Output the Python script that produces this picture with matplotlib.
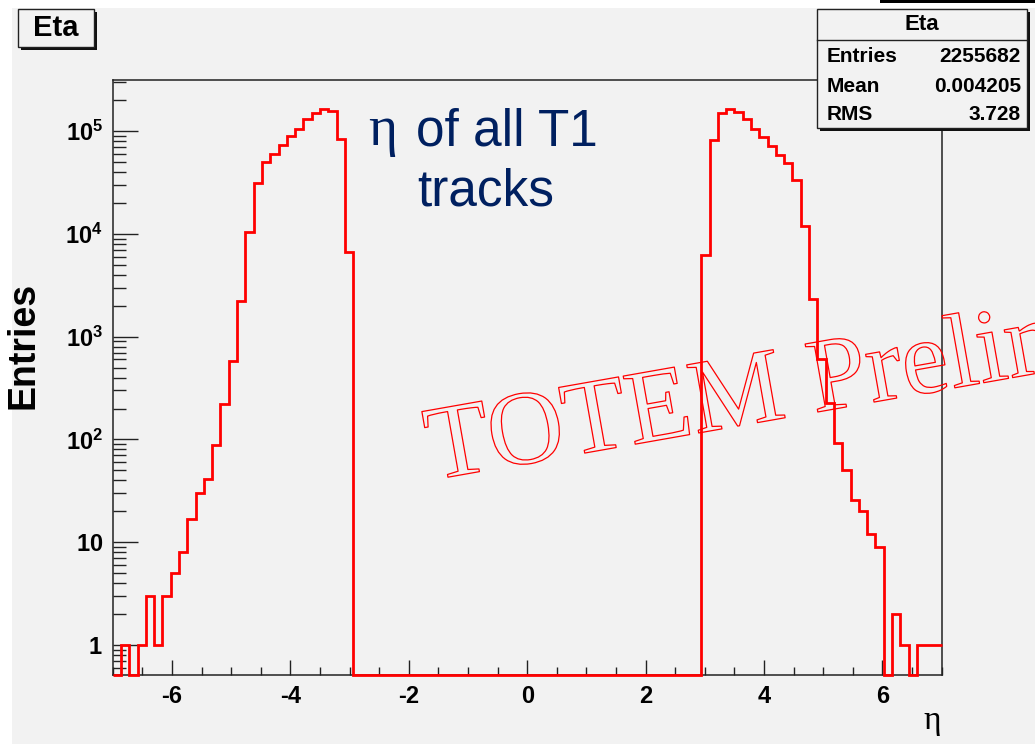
import numpy as np
import matplotlib
matplotlib.use("Agg")
import matplotlib.pyplot as plt
import matplotlib.patheffects as pe
from matplotlib.patches import Rectangle
from matplotlib.lines import Line2D
from matplotlib.ticker import MultipleLocator, LogLocator, FuncFormatter, NullFormatter

# Data: 100 bins of eta from -7 to 7
eta_edges = np.linspace(-7, 7, 101)
left_counts = [0, 1, 0, 1, 3, 1, 3, 5, 8, 17, 30, 41, 89, 221, 576, 2210,
               10500, 31500, 50000, 59800, 72900, 88700, 105300, 129400,
               150900, 164300, 157400, 82800, 6620]
middle_counts = [0] * 42
right_counts = [6220, 82400, 150600, 164000, 153000, 132000, 105000, 87500,
                71200, 58400, 49100, 33300, 11860, 2310, 609, 226, 92, 50,
                26, 20, 12, 9, 0, 2, 1, 0, 1, 1, 1]
counts = np.array(left_counts + middle_counts + right_counts, dtype=float)

stats_rows = [("Entries", "2255682"), ("Mean", "0.004205"), ("RMS", "3.728")]
ytick_values = [1, 10, 1e2, 1e3, 1e4, 1e5]

plt.rcParams['font.family'] = 'Liberation Sans'
plt.rcParams['axes.unicode_minus'] = False
plt.rcParams['mathtext.fontset'] = 'custom'
plt.rcParams['mathtext.rm'] = 'Liberation Sans:bold'
plt.rcParams['mathtext.bf'] = 'Liberation Sans:bold'

W, H = 1035, 744
fig = plt.figure(figsize=(W / 100, H / 100), dpi=100, facecolor='white')
bg = '#f2f2f2'


def fx(x):
    return x / W


def fy(y):
    return 1 - y / H


# ROOT canvas background
fig.patches.append(Rectangle((fx(12), 0), 1 - fx(12), fy(8), transform=fig.transFigure,
                             facecolor=bg, edgecolor='none', zorder=-10))
fig.patches.append(Rectangle((fx(880), fy(3)), 1 - fx(880), 1 - fy(3), transform=fig.transFigure,
                             facecolor='black', edgecolor='none', zorder=5))

ax = fig.add_axes([fx(112.7), fy(675), fx(941.7) - fx(112.7), fy(80) - fy(675)])
ax.set_facecolor(bg)
ax.set_yscale('log')
ax.set_xlim(-7, 7)
ax.set_ylim(0.513, 3.13e5)

ymin = ax.get_ylim()[0]
ax.stairs(np.where(counts > 0, counts, ymin), eta_edges, baseline=None,
          color='#ff0000', linewidth=2.0, clip_on=False, zorder=3)

for s in ax.spines.values():
    s.set_color('#222222')
    s.set_linewidth(1.1)

ax.xaxis.set_major_locator(MultipleLocator(2))
ax.xaxis.set_minor_locator(MultipleLocator(0.5))
ax.yaxis.set_major_locator(LogLocator(base=10, numticks=20))
ax.yaxis.set_minor_locator(LogLocator(base=10, subs=np.arange(2, 10), numticks=20))
ax.yaxis.set_minor_formatter(NullFormatter())


def ylab(v, pos):
    if v in ytick_values[:2]:
        return r'$\mathbf{%d}$' % int(v)
    return r'$\mathbf{10^{%d}}$' % int(round(np.log10(v)))


ax.yaxis.set_major_formatter(FuncFormatter(ylab))
ax.tick_params(axis='both', which='both', direction='in', colors='#222222',
               top=False, right=False, width=1.0)
ax.tick_params(axis='x', which='major', length=10.8, pad=7, labelsize=17)
ax.tick_params(axis='x', which='minor', length=5.8)
ax.tick_params(axis='y', which='major', length=18, pad=7, labelsize=17)
ax.tick_params(axis='y', which='minor', length=9.4)
for lbl in ax.get_xticklabels():
    lbl.set_fontweight('bold')
    lbl.set_color('black')
for lbl in ax.get_yticklabels():
    lbl.set_color('black')

# axis titles
fig.text(fx(24), fy(345), 'Entries', rotation=90, ha='center', va='center',
         fontsize=27, fontweight='bold')
fig.text(fx(941), fy(729), 'η', ha='right', va='baseline', fontsize=24,
         family='Liberation Serif')

# in-plot annotation
navy = '#002060'
fig.text(fx(383), fy(145), 'η', ha='center', va='baseline', fontsize=40,
         family='Liberation Serif', color=navy)
fig.text(fx(507), fy(145), 'of all T1', ha='center', va='baseline', fontsize=37, color=navy)
fig.text(fx(486), fy(205), 'tracks', ha='center', va='baseline', fontsize=37, color=navy)

# watermark
fig.text(fx(432), fy(480), 'TOTEM Preliminary', rotation=10, rotation_mode='anchor',
         ha='left', va='baseline', fontsize=76, family='Liberation Serif', color='none',
         path_effects=[pe.Stroke(linewidth=0.9, foreground='#ff0000')], zorder=6)


def box(x0, y0, x1, y1):
    fig.patches.append(Rectangle((fx(x0 + 3), fy(y1 + 3)), fx(x1 - x0), fy(y0) - fy(y1),
                                 transform=fig.transFigure, facecolor='#111111',
                                 edgecolor='none', zorder=7))
    fig.patches.append(Rectangle((fx(x0), fy(y1)), fx(x1 - x0), fy(y0) - fy(y1),
                                 transform=fig.transFigure, facecolor=bg,
                                 edgecolor='#222222', linewidth=1.0, zorder=8))


# title box
box(18, 9, 94, 47)
fig.text(fx(56), fy(28), 'Eta', ha='center', va='center', fontsize=21,
         fontweight='bold', zorder=9)

# stats box
box(817, 9, 1027, 128)
fig.lines.append(Line2D([fx(817), fx(1027)], [fy(39.5), fy(39.5)], transform=fig.transFigure,
                        color='#222222', linewidth=1.0, zorder=9))
fig.text(fx(922), fy(25), 'Eta', ha='center', va='center', fontsize=16,
         fontweight='bold', zorder=9)
for i, (name, val) in enumerate(stats_rows):
    yy = 57 + i * 29
    fig.text(fx(827), fy(yy), name, ha='left', va='center', fontsize=15,
             fontweight='bold', zorder=9)
    fig.text(fx(1021), fy(yy), val, ha='right', va='center', fontsize=15,
             fontweight='bold', zorder=9)

fig.savefig('out.png', dpi=100, facecolor=fig.get_facecolor())
